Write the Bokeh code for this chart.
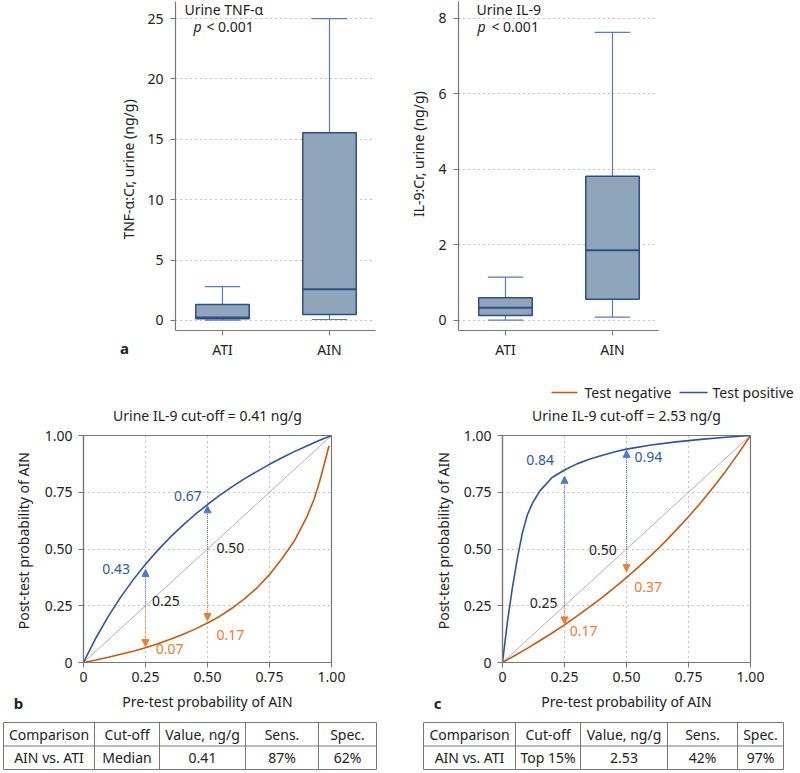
import math
from bokeh.plotting import figure
from bokeh.models import Range1d, FixedTicker, Arrow, NormalHead, ColumnDataSource, Label
from bokeh.layouts import column, row
from bokeh.embed import file_html
from bokeh.resources import INLINE
from bokeh.core.properties import value

FONT = "Noto Sans"

# ---------------- data ----------------
groups = ["ATI", "AIN"]
tnf_low = [0.03, 0.08]
tnf_q1 = [0.15, 0.50]
tnf_med = [0.25, 2.59]
tnf_q3 = [1.32, 15.55]
tnf_high = [2.81, 25.0]
tnf_ticks = [0, 5, 10, 15, 20, 25]

il9_low = [0.01, 0.09]
il9_q1 = [0.13, 0.56]
il9_med = [0.34, 1.86]
il9_q3 = [0.60, 3.82]
il9_high = [1.15, 7.63]
il9_ticks = [0, 2, 4, 6, 8]

prob_ticks = [0, 0.25, 0.5, 0.75, 1.0]
prob_labels = ["0", "0.25", "0.50", "0.75", "1.00"]

# panel b (cut-off 0.41 ng/g)
b_pos_x = [0, .05, .1, .15, .2, .25, .3, .35, .4, .45, .5, .55, .6, .65, .7, .75, .8, .85, .9, .95, 1.0]
b_pos_y = [0, .108, .203, .288, .364, .433, .495, .552, .604, .652, .696, .737, .775, .810, .842, .873, .902, .929, .954, .978, 1.0]
b_neg_x = [0, .05, .1, .15, .2, .25, .3, .35, .4, .45, .5, .55, .6, .65, .7, .75, .8, .85, .9, .93, .95, .97, .99]
b_neg_y = [0, .011, .023, .036, .050, .065, .083, .102, .123, .147, .174, .204, .240, .281, .329, .387, .457, .535, .640, .720, .790, .870, .955]
b_arrow_x = [0.25, 0.5]
b_arrow_pos_tip = [0.41, 0.69]
b_arrow_neg_tip = [0.07, 0.185]
b_pos_labels = ["0.43", "0.67"]
b_neg_labels = ["0.07", "0.17"]
b_pre_labels = ["0.25", "0.50"]

# panel c (cut-off 2.53 ng/g)
c_pos_x = [0, .02, .04, .06, .08, .10, .12, .15, .2, .25, .3, .35, .4, .45, .5, .6, .7, .8, .9, 1.0]
c_pos_y = [0, .18, .33, .46, .57, .65, .70, .755, .815, .848, .875, .895, .912, .927, .94, .958, .972, .983, .992, 1.0]
c_neg_x = [0, .05, .1, .15, .2, .25, .3, .35, .4, .45, .5, .55, .6, .65, .7, .75, .8, .85, .9, .95, 1.0]
c_neg_y = [0, .031, .062, .096, .130, .166, .204, .244, .285, .329, .374, .422, .473, .526, .583, .642, .705, .772, .843, .919, 1.0]
c_arrow_x = [0.25, 0.5]
c_arrow_pos_tip = [0.82, 0.935]
c_arrow_neg_tip = [0.17, 0.40]
c_pos_labels = ["0.84", "0.94"]
c_neg_labels = ["0.17", "0.37"]
c_pre_labels = ["0.25", "0.50"]

table_header = ["Comparison", "Cut-off", "Value, ng/g", "Sens.", "Spec."]
table_b = ["AIN vs. ATI", "Median", "0.41", "87%", "62%"]
table_c = ["AIN vs. ATI", "Top 15%", "2.53", "42%", "97%"]

# ---------------- styles ----------------
WHISK = "#5a7db5"
BOX_FILL = "#8ea5ba"
EDGE = "#2b5089"
GRID = "#8a8a8a"
AXIS = "#777777"
TXT = "#222222"
BLUE_CURVE = "#2f5597"
ORANGE_CURVE = "#c55a11"
BLUE_ARROW = "#4a7bd0"
ORANGE_ARROW = "#ed7d31"
BLUE_TEXT = "#2f5a9e"
ORANGE_TEXT = "#ed7d31"
DOT = "1 4"


def lab(p, x, y, text, size="14px", color=TXT, align="left", style="normal"):
    p.add_layout(Label(x=x, y=y, text=text, text_font=FONT, text_font_size=size,
                       text_color=color, text_align=align, text_baseline="middle",
                       text_font_style=style))


def strip(x0, y0, w, h):
    """A text-only figure whose data coordinates are page pixels."""
    p = figure(width=w, height=h, x_range=Range1d(x0, x0 + w), y_range=Range1d(y0 + h, y0),
               x_axis_type=None, y_axis_type=None,
               output_backend="svg", toolbar_location=None, min_border=0)
    p.grid.grid_line_color = None
    p.outline_line_color = None
    p.background_fill_color = None
    p.border_fill_color = None
    return p


def stext(p, x, y, text, align="left", style="normal", angle=0, size="14px", color=TXT):
    p.text([x], [y], text=[text], text_font=value(FONT), text_font_size=size,
           text_color=color, text_align=align, text_baseline="middle",
           text_font_style=style, angle=angle)


def style_axes(p):
    for ax in (p.xaxis[0], p.yaxis[0]):
        ax.axis_line_color = AXIS
        ax.axis_line_width = 1.2
        ax.major_tick_line_color = AXIS
        ax.minor_tick_line_color = None
        ax.major_tick_in = 0
        ax.major_tick_out = 5
        ax.major_label_text_font = FONT
        ax.major_label_text_font_size = "14px"
        ax.major_label_text_color = TXT


def box_panel(width, yr, ml, low, q1, med, q3, high, ticks):
    p = figure(width=width, height=362, x_range=Range1d(0.561, 2.43), y_range=Range1d(*yr),
               output_backend="svg", toolbar_location=None,
               min_border_left=ml, min_border_right=width - ml - 200,
               min_border_top=1, min_border_bottom=32)
    p.outline_line_color = None
    p.background_fill_color = None
    p.border_fill_color = None
    style_axes(p)
    xs = [i + 1 for i in range(len(groups))]
    p.xaxis.ticker = FixedTicker(ticks=xs)
    p.xaxis.major_label_overrides = {x: g for x, g in zip(xs, groups)}
    p.xaxis.major_label_standoff = 4
    p.yaxis.ticker = FixedTicker(ticks=ticks)
    p.yaxis.major_label_standoff = 7
    p.xgrid.grid_line_color = None
    p.ygrid.grid_line_color = GRID
    p.ygrid.grid_line_dash = DOT
    p.ygrid.grid_line_width = 1.2
    cap = 0.165
    hw = 0.25
    p.segment(xs, q3, xs, high, line_color=WHISK, line_width=1.2)
    p.segment(xs, low, xs, q1, line_color=WHISK, line_width=1.2)
    p.segment([x - cap for x in xs], high, [x + cap for x in xs], high, line_color=WHISK, line_width=1.2)
    p.segment([x - cap for x in xs], low, [x + cap for x in xs], low, line_color=WHISK, line_width=1.2)
    p.vbar(x=xs, bottom=q1, top=q3, width=2 * hw, fill_color=BOX_FILL, line_color=EDGE, line_width=1.5)
    p.segment([x - hw for x in xs], med, [x + hw for x in xs], med, line_color=EDGE, line_width=2)
    return p


# ---------------- row 1 ----------------
S1a = strip(0, 0, 140, 330)
stext(S1a, 128, 169, "TNF-α:Cr, urine (ng/g)", align="center", angle=math.pi / 2)
S1b = strip(0, 330, 140, 32)
stext(S1b, 124, 347, "a", align="center", style="bold", size="15px")

pA1 = box_panel(260, (-0.83, 26.41), 35, tnf_low, tnf_q1, tnf_med, tnf_q3, tnf_high, tnf_ticks)
lab(pA1, 0.645, 25.745, "Urine TNF-α")
lab(pA1, 0.729, 24.34, "p", style="italic")
lab(pA1, 0.850, 24.34, "< 0.001")

S2 = strip(400, 0, 30, 362)
stext(S2, 418, 168, "IL-9:Cr, urine (ng/g)", align="center", angle=math.pi / 2)

pA2 = box_panel(366, (-0.265, 8.45), 28, il9_low, il9_q1, il9_med, il9_q3, il9_high, il9_ticks)
lab(pA2, 0.729, 8.238, "Urine IL-9")
lab(pA2, 0.738, 7.788, "p", style="italic")
lab(pA2, 0.869, 7.788, "< 0.001")

# ---------------- header of row 2 (titles + legend) ----------------
H = strip(0, 362, 796, 65)
stext(H, 207, 415, "Urine IL-9 cut-off = 0.41 ng/g", align="center")
stext(H, 626, 415, "Urine IL-9 cut-off = 2.53 ng/g", align="center")
H.segment([551, 679], [392, 392], [577, 707], [392, 392],
          line_color=[ORANGE_CURVE, BLUE_CURVE], line_width=1.6)
stext(H, 584, 392, "Test negative")
stext(H, 712, 392, "Test positive")


def prob_panel(width, ml, pos_x, pos_y, neg_x, neg_y, ax_x, pos_tip, neg_tip):
    p = figure(width=width, height=261, x_range=Range1d(0, 1), y_range=Range1d(0, 1),
               output_backend="svg", toolbar_location=None,
               min_border_left=ml, min_border_right=width - ml - 248,
               min_border_top=8, min_border_bottom=26)
    p.outline_line_color = AXIS
    p.outline_line_width = 1.2
    p.background_fill_color = None
    p.border_fill_color = None
    style_axes(p)
    for ax in (p.xaxis[0], p.yaxis[0]):
        ax.ticker = FixedTicker(ticks=prob_ticks)
        ax.major_label_overrides = {t: s for t, s in zip(prob_ticks, prob_labels)}
    p.xaxis.major_label_standoff = 4
    p.yaxis.major_label_standoff = 6
    for g in (p.xgrid[0], p.ygrid[0]):
        g.ticker = FixedTicker(ticks=prob_ticks[1:-1])
        g.grid_line_color = GRID
        g.grid_line_dash = DOT
        g.grid_line_width = 1.2
    p.line([0, 1], [0, 1], line_color="#b0b0b0", line_width=1)
    p.line(neg_x, neg_y, line_color=ORANGE_CURVE, line_width=1.6)
    p.line(pos_x, pos_y, line_color=BLUE_CURVE, line_width=1.6)
    src_pos = ColumnDataSource(dict(x=ax_x, y0=ax_x, y1=pos_tip))
    src_neg = ColumnDataSource(dict(x=ax_x, y0=ax_x, y1=neg_tip))
    p.add_layout(Arrow(end=NormalHead(size=7, fill_color=BLUE_ARROW, line_color=BLUE_ARROW),
                       x_start="x", y_start="y0", x_end="x", y_end="y1", source=src_pos,
                       line_color=BLUE_ARROW, line_width=1, line_dash="1 1"))
    p.add_layout(Arrow(end=NormalHead(size=7, fill_color=ORANGE_ARROW, line_color=ORANGE_ARROW),
                       x_start="x", y_start="y0", x_end="x", y_end="y1", source=src_neg,
                       line_color=ORANGE_ARROW, line_width=1, line_dash="1 1"))
    return p


# ---------------- row 2 ----------------
SB = strip(0, 427, 40, 261)
stext(SB, 23, 548, "Post-test probability of AIN", align="center", angle=math.pi / 2)

pB = prob_panel(360, 43, b_pos_x, b_pos_y, b_neg_x, b_neg_y, b_arrow_x, b_arrow_pos_tip, b_arrow_neg_tip)
lab(pB, 0.132, 0.41, b_pos_labels[0], color=BLUE_TEXT, align="center")
lab(pB, 0.421, 0.735, b_pos_labels[1], color=BLUE_TEXT, align="center")
lab(pB, 0.332, 0.272, b_pre_labels[0], align="center")
lab(pB, 0.592, 0.503, b_pre_labels[1], align="center")
lab(pB, 0.347, 0.060, b_neg_labels[0], color=ORANGE_TEXT, align="center")
lab(pB, 0.592, 0.122, b_neg_labels[1], color=ORANGE_TEXT, align="center")

SC = strip(400, 427, 55, 261)
stext(SC, 443, 548, "Post-test probability of AIN", align="center", angle=math.pi / 2)

pC = prob_panel(341, 47, c_pos_x, c_pos_y, c_neg_x, c_neg_y, c_arrow_x, c_arrow_pos_tip, c_arrow_neg_tip)
lab(pC, 0.152, 0.89, c_pos_labels[0], color=BLUE_TEXT, align="center")
lab(pC, 0.588, 0.904, c_pos_labels[1], color=BLUE_TEXT, align="center")
lab(pC, 0.166, 0.263, c_pre_labels[0], align="center")
lab(pC, 0.405, 0.496, c_pre_labels[1], align="center")
lab(pC, 0.327, 0.14, c_neg_labels[0], color=ORANGE_TEXT, align="center")
lab(pC, 0.587, 0.334, c_neg_labels[1], color=ORANGE_TEXT, align="center")

# ---------------- bottom: axis titles, panel letters, tables ----------------
BOT = strip(0, 688, 796, 82)
stext(BOT, 207, 701, "Pre-test probability of AIN", align="center")
stext(BOT, 626, 701, "Pre-test probability of AIN", align="center")
stext(BOT, 18, 702, "b", align="center", style="bold", size="15px")
stext(BOT, 437, 702, "c", align="center", style="bold", size="15px")

row_y = [722, 745.5, 769]
for cols, rowvals in (([3, 94, 159, 245, 318, 376], table_b), ([423, 515, 580, 667, 737, 783], table_c)):
    x0s = [cols[0]] * 3 + cols
    x1s = [cols[-1]] * 3 + cols
    y0s = row_y + [row_y[0]] * len(cols)
    y1s = row_y + [row_y[-1]] * len(cols)
    BOT.segment(x0s, y0s, x1s, y1s, line_color="#777777", line_width=1)
    cx = [(cols[i] + cols[i + 1]) / 2 for i in range(len(cols) - 1)]
    BOT.text(cx, [(row_y[0] + row_y[1]) / 2] * len(cx), text=table_header,
             text_font=value(FONT), text_font_size="14px", text_color=TXT,
             text_align="center", text_baseline="middle")
    BOT.text(cx, [(row_y[1] + row_y[2]) / 2] * len(cx), text=rowvals,
             text_font=value(FONT), text_font_size="14px", text_color=TXT,
             text_align="center", text_baseline="middle")

layout = column(row(column(S1a, S1b), pA1, S2, pA2), H, row(SB, pB, SC, pC), BOT)
open("out.html", "w").write(file_html(layout, INLINE))
